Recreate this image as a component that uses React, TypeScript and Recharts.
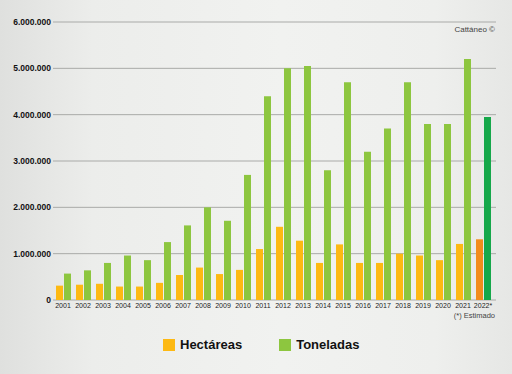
import { BarChart, Bar, XAxis, YAxis, CartesianGrid, Cell } from "recharts";

const years = [
  "2001", "2002", "2003", "2004", "2005", "2006", "2007", "2008", "2009", "2010", "2011",
  "2012", "2013", "2014", "2015", "2016", "2017", "2018", "2019", "2020", "2021", "2022*",
];

const hectareas = [
  310000, 330000, 350000, 290000, 290000, 370000, 540000, 700000, 560000, 650000, 1100000,
  1580000, 1280000, 800000, 1200000, 800000, 800000, 1000000, 960000, 860000, 1210000, 1310000,
];

const toneladas = [
  570000, 640000, 800000, 960000, 860000, 1250000, 1610000, 2000000, 1710000, 2700000, 4400000,
  5000000, 5050000, 2800000, 4700000, 3200000, 3700000, 4700000, 3800000, 3800000, 5200000, 3950000,
];

const yTicks = [0, 1000000, 2000000, 3000000, 4000000, 5000000, 6000000];

const HECT = "#fdb913";
const TON = "#8dc63f";
const HECT_EST = "#f28c1c";
const TON_EST = "#16a84a";

const data = years.map((y, i) => ({ year: y, hect: hectareas[i], ton: toneladas[i] }));

const fmt = (v: number) => (v === 0 ? "0" : v.toLocaleString("de-DE"));

const font = "'Liberation Sans', Arial, sans-serif";

export default function App() {
  const last = data.length - 1;
  return (
    <div
      style={{
        position: "absolute",
        left: 0,
        top: 0,
        width: 512,
        height: 374,
        overflow: "hidden",
        fontFamily: font,
        background:
          "linear-gradient(90deg, #dfe0de 0%, #ecedeb 18%, #f1f2f0 55%, #eeefed 85%, #e6e7e5 100%)",
      }}
    >
      <BarChart
        width={512}
        height={374}
        data={data}
        margin={{ top: 22, right: 16, bottom: 0, left: 0 }}
        barGap={1}
        barSize={7}
      >
        <CartesianGrid vertical={false} stroke="#a9aaa8" strokeWidth={1} />
        <XAxis
          dataKey="year"
          height={74}
          axisLine={false}
          tickLine={false}
          tickSize={0}
          tickMargin={3}
          interval={0}
          padding={{ left: 0, right: 3 }}
          tick={{ fontSize: 7, fill: "#222", fontFamily: font }}
        />
        <YAxis
          width={53}
          domain={[0, 6000000]}
          ticks={yTicks}
          tickFormatter={fmt}
          axisLine={false}
          tickLine={false}
          tickSize={0}
          tickMargin={2}
          tick={{ fontSize: 8.5, fontWeight: "bold", fill: "#111", fontFamily: font }}
        />
        <Bar dataKey="hect" isAnimationActive={false}>
          {data.map((d, i) => (
            <Cell key={d.year} fill={i === last ? HECT_EST : HECT} />
          ))}
        </Bar>
        <Bar dataKey="ton" isAnimationActive={false}>
          {data.map((d, i) => (
            <Cell key={d.year} fill={i === last ? TON_EST : TON} />
          ))}
        </Bar>
      </BarChart>
      <div style={{ position: "absolute", right: 17, top: 25, fontSize: 8, color: "#444" }}>Cattáneo ©</div>
      <div style={{ position: "absolute", right: 17, top: 311, fontSize: 7.5, color: "#444" }}>(*) Estimado</div>
      <div
        style={{
          position: "absolute",
          top: 337,
          left: 163,
          display: "flex",
          alignItems: "center",
          fontSize: 13,
          fontWeight: "bold",
          color: "#111",
        }}
      >
        <span style={{ width: 12, height: 12, background: HECT, display: "inline-block", marginRight: 5 }} />
        <span style={{ marginRight: 37 }}>Hectáreas</span>
        <span style={{ width: 12, height: 12, background: TON, display: "inline-block", marginRight: 5 }} />
        <span>Toneladas</span>
      </div>
    </div>
  );
}
